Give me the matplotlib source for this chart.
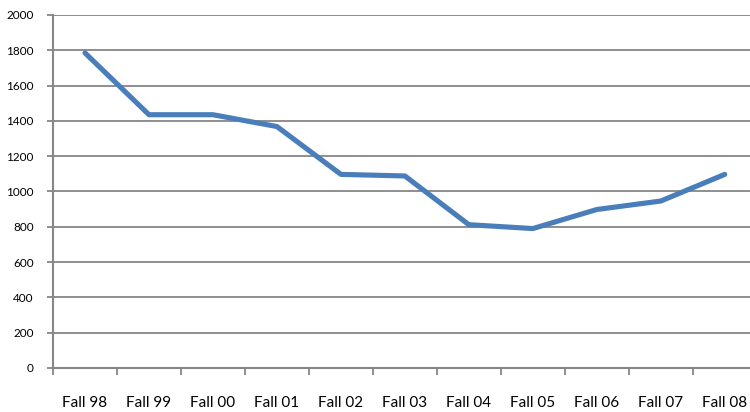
import matplotlib
matplotlib.use("Agg")
import matplotlib.pyplot as plt

# data
semesters = ["Fall 98", "Fall 99", "Fall 00", "Fall 01", "Fall 02", "Fall 03",
             "Fall 04", "Fall 05", "Fall 06", "Fall 07", "Fall 08"]
counts = [1785, 1435, 1435, 1368, 1097, 1088, 812, 790, 898, 946, 1097]
yticks = list(range(0, 2001, 200))

plt.rcParams['font.family'] = ['Lato', 'DejaVu Sans']
grey = '#868686'

fig = plt.figure(figsize=(7.5, 4.12), dpi=100)
ax = fig.add_axes([0.0707, 0.1068, 1.009 - 0.0707, 0.9636 - 0.1068])

x = list(range(len(semesters)))
ax.plot(x, counts, color='#4A7EBB', linewidth=3.7, solid_joinstyle='round',
        solid_capstyle='round', zorder=3)

ax.set_xlim(-0.5, len(semesters) - 0.5)
ax.set_ylim(0, 2000)
ax.set_yticks(yticks)
ax.set_yticklabels([str(v) for v in yticks], fontsize=8.5)
ax.yaxis.grid(True, color=grey, linewidth=1.3)
ax.set_axisbelow(True)

ax.set_xticks(x)
ax.set_xticklabels(semesters, fontsize=11)
ax.tick_params(axis='x', length=0, pad=20)
# category separator ticks
ax.set_xticks([i - 0.5 for i in range(len(semesters) + 1)], minor=True)
ax.tick_params(axis='x', which='minor', length=5, color=grey, width=1.3, direction='out')
ax.tick_params(axis='y', length=4, color=grey, width=1.3, pad=10)

for s in ['top', 'right']:
    ax.spines[s].set_visible(False)
for s in ['left', 'bottom']:
    ax.spines[s].set_color(grey)
    ax.spines[s].set_linewidth(1.5)

fig.savefig('out.png', dpi=100)
